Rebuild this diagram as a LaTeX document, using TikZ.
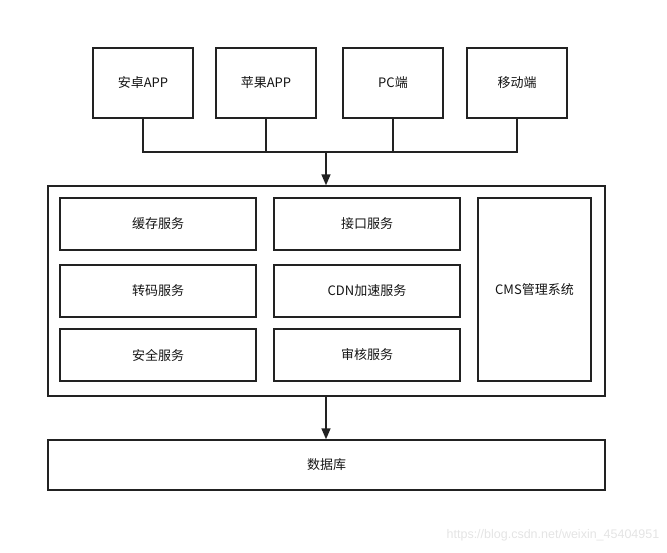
\documentclass[tikz,border=0pt]{standalone}
\usepackage{fontspec}
\setmainfont{Noto Sans CJK SC}
\newfontfamily\markfont{Liberation Sans}
\usetikzlibrary{arrows.meta}

\tikzset{every picture/.style={line width=1.4pt}}
\tikzset{
	box/.style={draw={rgb,255:red,34;green,34;blue,34}, rectangle, inner sep=0pt, font=\fontsize{13}{15}\selectfont, text={rgb,255:red,20;green,20;blue,20}},
	link/.style={draw={rgb,255:red,34;green,34;blue,34}, line width=1.6pt},
	flow/.style={link, -{Triangle[length=11pt,width=9pt]}}}

\begin{document}
\begin{tikzpicture}[x=1pt,y=1pt,yscale=-1,xscale=1]
	\useasboundingbox (0,0) rectangle (667,552);
	
	% Client boxes
	\node [box, minimum width=100, minimum height=70] (android) at (143,83) {安卓APP};
	\node [box, minimum width=100, minimum height=70] (iphone) at (266,83) {苹果APP};
	\node [box, minimum width=100, minimum height=70] (pc) at (393,83) {PC端};
	\node [box, minimum width=100, minimum height=70] (mobile) at (517,83) {移动端};
	
	% Server frame
	\node [box, minimum width=557, minimum height=210] (server) at (326.5,291) {};
	\node [box, minimum width=196, minimum height=52] (cache) at (158,224) {缓存服务};
	\node [box, minimum width=186, minimum height=52] (api) at (367,224) {接口服务};
	\node [box, minimum width=196, minimum height=52] (transcode) at (158,291) {转码服务};
	\node [box, minimum width=186, minimum height=52] (cdn) at (367,291) {CDN加速服务};
	\node [box, minimum width=196, minimum height=52] (security) at (158,355) {安全服务};
	\node [box, minimum width=186, minimum height=52] (audit) at (367,355) {审核服务};
	\node [box, minimum width=113, minimum height=183] (cms) at (534.5,289.5) {CMS管理系统};
	
	% Database
	\node [box, minimum width=557, minimum height=50] (db) at (326.5,465) {数据库};
	
	% Bus
	\coordinate (bus) at (326,152);
	\coordinate (out) at (326,396);
	\draw [link] (android.south) |- (mobile.south |- bus) -- (mobile.south);
	\draw [link] (iphone.south) -- (iphone.south |- bus);
	\draw [link] (pc.south) -- (pc.south |- bus);
	\draw [flow] (bus) -- (bus |- server.north);
	\draw [flow] (out) -- (out |- db.north);
	
	% Text Node
	\node [anchor=east, inner sep=0pt, font=\markfont\fontsize{12.5}{14}\selectfont, text={rgb,255:red,228;green,228;blue,228}] (mark) at (660,535) {https://blog.csdn.net/weixin\_45404951};
	
\end{tikzpicture}
\end{document}
